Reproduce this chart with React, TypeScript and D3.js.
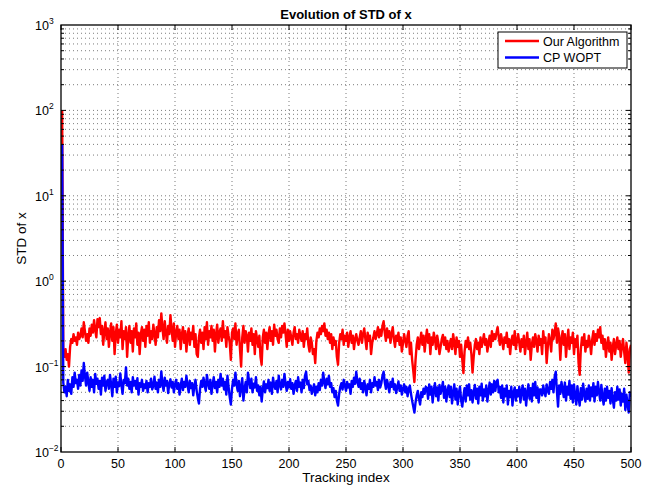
import React from "react";
import * as d3 from "d3";

// STD of x per tracking index (index 1..500)
const ourAlgorithm = [
  100, 0.15, 0.13, 0.16, 0.12, 0.14, 0.10, 0.17, 0.21, 0.19, 0.24, 0.20, 0.22, 0.18, 0.25, 0.21, 0.23, 0.28, 0.22, 0.33,
  0.26, 0.20, 0.24, 0.19, 0.28, 0.23, 0.31, 0.25, 0.35, 0.27, 0.22, 0.36, 0.29, 0.37, 0.24, 0.30, 0.18, 0.26, 0.33, 0.21,
  0.28, 0.17, 0.25, 0.32, 0.20, 0.29, 0.14, 0.24, 0.31, 0.19, 0.27, 0.22, 0.34, 0.16, 0.26, 0.21, 0.29, 0.13, 0.23, 0.30,
  0.19, 0.26, 0.15, 0.28, 0.22, 0.32, 0.18, 0.25, 0.14, 0.24, 0.29, 0.20, 0.27, 0.17, 0.30, 0.23, 0.33, 0.19, 0.26, 0.21,
  0.31, 0.24, 0.18, 0.29, 0.22, 0.35, 0.26, 0.42, 0.28, 0.21, 0.34, 0.25, 0.19, 0.30, 0.24, 0.40, 0.27, 0.20, 0.32, 0.17,
  0.25, 0.30, 0.21, 0.27, 0.16, 0.24, 0.29, 0.19, 0.26, 0.15, 0.23, 0.28, 0.18, 0.25, 0.21, 0.30, 0.17, 0.24, 0.14, 0.13,
  0.22, 0.27, 0.19, 0.25, 0.16, 0.29, 0.21, 0.33, 0.18, 0.26, 0.22, 0.30, 0.20, 0.27, 0.15, 0.24, 0.31, 0.19, 0.25, 0.28,
  0.20, 0.34, 0.22, 0.26, 0.17, 0.29, 0.23, 0.19, 0.12, 0.25, 0.28, 0.21, 0.32, 0.18, 0.24, 0.27, 0.16, 0.10, 0.22, 0.30,
  0.19, 0.26, 0.23, 0.15, 0.25, 0.20, 0.28, 0.18, 0.24, 0.14, 0.26, 0.21, 0.17, 0.23, 0.13, 0.105, 0.22, 0.27, 0.19, 0.25,
  0.16, 0.24, 0.29, 0.20, 0.26, 0.18, 0.31, 0.23, 0.27, 0.21, 0.19, 0.28, 0.22, 0.30, 0.25, 0.32, 0.24, 0.17, 0.27, 0.20,
  0.26, 0.22, 0.18, 0.25, 0.29, 0.21, 0.24, 0.19, 0.27, 0.23, 0.20, 0.26, 0.17, 0.24, 0.21, 0.28, 0.18, 0.15, 0.22, 0.19,
  0.14, 0.16, 0.11, 0.20, 0.25, 0.22, 0.28, 0.24, 0.30, 0.26, 0.32, 0.23, 0.27, 0.21, 0.25, 0.19, 0.24, 0.16, 0.22, 0.18,
  0.20, 0.13, 0.105, 0.19, 0.24, 0.21, 0.27, 0.18, 0.23, 0.20, 0.25, 0.17, 0.22, 0.26, 0.19, 0.23, 0.16, 0.21, 0.24, 0.20,
  0.18, 0.22, 0.26, 0.19, 0.24, 0.28, 0.21, 0.16, 0.25, 0.20, 0.23, 0.14, 0.19, 0.22, 0.26, 0.21, 0.24, 0.29, 0.22, 0.27,
  0.23, 0.30, 0.34, 0.25, 0.20, 0.28, 0.22, 0.26, 0.19, 0.24, 0.29, 0.21, 0.17, 0.23, 0.20, 0.25, 0.18, 0.22, 0.15, 0.19,
  0.24, 0.20, 0.17, 0.23, 0.26, 0.14, 0.19, 0.12, 0.09, 0.066, 0.12, 0.18, 0.22, 0.16, 0.20, 0.25, 0.18, 0.23, 0.15, 0.21,
  0.27, 0.19, 0.24, 0.14, 0.22, 0.18, 0.25, 0.21, 0.16, 0.23, 0.19, 0.14, 0.17, 0.21, 0.235, 0.18, 0.22, 0.16, 0.20, 0.15,
  0.18, 0.21, 0.16, 0.24, 0.19, 0.14, 0.22, 0.17, 0.20, 0.13, 0.18, 0.12, 0.084, 0.15, 0.20, 0.17, 0.22, 0.16, 0.19, 0.14,
  0.085, 0.13, 0.18, 0.21, 0.16, 0.19, 0.14, 0.22, 0.17, 0.20, 0.24, 0.18, 0.21, 0.15, 0.19, 0.23, 0.17, 0.26, 0.20, 0.24,
  0.21, 0.25, 0.29, 0.22, 0.18, 0.24, 0.20, 0.16, 0.22, 0.19, 0.25, 0.17, 0.21, 0.14, 0.20, 0.23, 0.18, 0.26, 0.16, 0.20,
  0.24, 0.19, 0.15, 0.21, 0.17, 0.23, 0.14, 0.19, 0.25, 0.16, 0.21, 0.12, 0.18, 0.22, 0.17, 0.24, 0.20, 0.15, 0.23, 0.18,
  0.21, 0.14, 0.26, 0.19, 0.22, 0.11, 0.17, 0.24, 0.20, 0.15, 0.27, 0.21, 0.25, 0.32, 0.19, 0.28, 0.23, 0.12, 0.21, 0.26,
  0.18, 0.24, 0.13, 0.20, 0.27, 0.16, 0.22, 0.19, 0.25, 0.14, 0.21, 0.17, 0.23, 0.11, 0.08, 0.16, 0.22, 0.18, 0.24, 0.15,
  0.20, 0.17, 0.23, 0.19, 0.14, 0.21, 0.26, 0.18, 0.24, 0.20, 0.27, 0.22, 0.29, 0.19, 0.23, 0.16, 0.21, 0.13, 0.18, 0.22,
  0.15, 0.19, 0.12, 0.17, 0.21, 0.14, 0.18, 0.22, 0.16, 0.20, 0.13, 0.17, 0.21, 0.15, 0.11, 0.19, 0.14, 0.085, 0.16, 0.18,
];

const cpWopt = [
  40, 0.065, 0.05, 0.058, 0.045, 0.07, 0.052, 0.062, 0.048, 0.075, 0.058, 0.085, 0.064, 0.07, 0.055, 0.08, 0.06, 0.09, 0.068, 0.11,
  0.078, 0.06, 0.085, 0.066, 0.052, 0.075, 0.058, 0.07, 0.05, 0.082, 0.063, 0.072, 0.055, 0.068, 0.047, 0.074, 0.06, 0.078, 0.052, 0.066,
  0.07, 0.055, 0.08, 0.062, 0.045, 0.072, 0.058, 0.076, 0.05, 0.065, 0.059, 0.083, 0.061, 0.048, 0.07, 0.064, 0.098, 0.06, 0.072, 0.055,
  0.066, 0.05, 0.075, 0.06, 0.068, 0.055, 0.073, 0.047, 0.064, 0.058, 0.07, 0.052, 0.062, 0.056, 0.068, 0.05, 0.064, 0.058, 0.072, 0.054,
  0.06, 0.076, 0.055, 0.065, 0.05, 0.07, 0.058, 0.088, 0.062, 0.052, 0.074, 0.06, 0.068, 0.049, 0.063, 0.071, 0.057, 0.066, 0.05, 0.062,
  0.07, 0.055, 0.064, 0.047, 0.06, 0.072, 0.053, 0.066, 0.058, 0.078, 0.061, 0.05, 0.068, 0.056, 0.064, 0.046, 0.06, 0.07, 0.052, 0.043,
  0.037, 0.055, 0.068, 0.058, 0.074, 0.06, 0.052, 0.08, 0.063, 0.055, 0.07, 0.048, 0.062, 0.075, 0.056, 0.066, 0.05, 0.07, 0.058, 0.082,
  0.06, 0.072, 0.054, 0.066, 0.047, 0.078, 0.058, 0.044, 0.036, 0.055, 0.07, 0.06, 0.085, 0.062, 0.052, 0.068, 0.045, 0.058, 0.073, 0.04,
  0.055, 0.066, 0.05, 0.085, 0.068, 0.056, 0.072, 0.05, 0.063, 0.057, 0.075, 0.052, 0.06, 0.046, 0.058, 0.039, 0.054, 0.067, 0.05, 0.062,
  0.056, 0.07, 0.052, 0.065, 0.048, 0.074, 0.06, 0.055, 0.068, 0.05, 0.078, 0.061, 0.054, 0.07, 0.058, 0.082, 0.063, 0.052, 0.066, 0.057,
  0.071, 0.055, 0.064, 0.048, 0.06, 0.068, 0.052, 0.075, 0.058, 0.065, 0.05, 0.07, 0.056, 0.078, 0.087, 0.062, 0.068, 0.053, 0.06, 0.048,
  0.055, 0.062, 0.046, 0.058, 0.05, 0.064, 0.053, 0.07, 0.06, 0.085, 0.066, 0.056, 0.072, 0.062, 0.078, 0.058, 0.064, 0.05, 0.056, 0.044,
  0.052, 0.04, 0.035, 0.048, 0.058, 0.064, 0.054, 0.07, 0.06, 0.052, 0.066, 0.057, 0.062, 0.048, 0.068, 0.058, 0.074, 0.063, 0.087, 0.066,
  0.058, 0.072, 0.055, 0.064, 0.05, 0.068, 0.058, 0.046, 0.062, 0.055, 0.07, 0.05, 0.064, 0.058, 0.075, 0.06, 0.066, 0.053, 0.07, 0.057,
  0.064, 0.078, 0.087, 0.066, 0.055, 0.07, 0.06, 0.05, 0.066, 0.058, 0.072, 0.054, 0.062, 0.049, 0.058, 0.067, 0.052, 0.06, 0.047, 0.055,
  0.062, 0.05, 0.058, 0.045, 0.055, 0.06, 0.048, 0.04, 0.034, 0.029, 0.038, 0.046, 0.052, 0.042, 0.036, 0.05, 0.044, 0.055, 0.048, 0.058,
  0.056, 0.042, 0.062, 0.047, 0.058, 0.038, 0.053, 0.064, 0.045, 0.057, 0.04, 0.061, 0.048, 0.055, 0.066, 0.043, 0.058, 0.039, 0.052, 0.06,
  0.044, 0.058, 0.037, 0.05, 0.062, 0.041, 0.055, 0.036, 0.049, 0.058, 0.04, 0.034, 0.045, 0.056, 0.039, 0.06, 0.046, 0.062, 0.041, 0.053,
  0.038, 0.05, 0.061, 0.042, 0.055, 0.037, 0.058, 0.046, 0.063, 0.04, 0.054, 0.045, 0.06, 0.039, 0.052, 0.065, 0.047, 0.062, 0.05, 0.068,
  0.052, 0.066, 0.07, 0.05, 0.058, 0.043, 0.06, 0.038, 0.055, 0.045, 0.06, 0.036, 0.052, 0.044, 0.058, 0.035, 0.05, 0.057, 0.04, 0.053,
  0.045, 0.058, 0.038, 0.052, 0.06, 0.041, 0.055, 0.035, 0.05, 0.062, 0.042, 0.056, 0.039, 0.063, 0.046, 0.066, 0.043, 0.057, 0.038, 0.054,
  0.054, 0.046, 0.06, 0.05, 0.045, 0.062, 0.052, 0.048, 0.066, 0.055, 0.07, 0.05, 0.075, 0.087, 0.052, 0.034, 0.06, 0.048, 0.066, 0.055,
  0.044, 0.065, 0.04, 0.058, 0.047, 0.068, 0.042, 0.06, 0.038, 0.062, 0.046, 0.036, 0.059, 0.043, 0.035, 0.056, 0.041, 0.063, 0.048, 0.039,
  0.055, 0.042, 0.06, 0.04, 0.057, 0.045, 0.064, 0.039, 0.058, 0.046, 0.066, 0.05, 0.04, 0.061, 0.044, 0.036, 0.055, 0.04, 0.058, 0.043,
  0.052, 0.037, 0.056, 0.042, 0.033, 0.05, 0.04, 0.058, 0.041, 0.054, 0.035, 0.048, 0.039, 0.055, 0.031, 0.047, 0.036, 0.029, 0.05, 0.044,
];

const xTicks = [0, 50, 100, 150, 200, 250, 300, 350, 400, 450, 500];
const yDecades = [-2, -1, 0, 1, 2, 3];

const series = [
  { name: "Our Algorithm", values: ourAlgorithm, color: "#ff0000" },
  { name: "CP WOPT", values: cpWopt, color: "#0000ff" },
];

const W = 659;
const H = 490;
const left = 61, right = 631, top = 25, bottom = 452;
const font = "'Liberation Sans', Arial, Helvetica, sans-serif";

export default function App() {
  const x = d3.scaleLinear().domain([0, 500]).range([left, right]);
  const y = d3.scaleLog().domain([1e-2, 1e3]).range([bottom, top]);

  const logTicks = y.ticks().filter((t) => t > 1e-2 && t < 1e3);
  const line = d3
    .line<number>()
    .x((_, i) => x(i + 1))
    .y((d) => y(d));

  return (
    <svg
      width={W}
      height={H}
      style={{ position: "absolute", left: 0, top: 0, background: "#fff" }}
      fontFamily={font}
    >
      <defs>
        <clipPath id="plot">
          <rect x={left} y={top} width={right - left} height={bottom - top} />
        </clipPath>
      </defs>

      {/* grid */}
      <g stroke="#444" strokeWidth={0.7} strokeDasharray="1 3">
        {xTicks.slice(1, -1).map((t) => (
          <line key={"gx" + t} x1={x(t)} x2={x(t)} y1={top} y2={bottom} />
        ))}
        {logTicks.map((t, i) => (
          <line key={"gy" + i} x1={left} x2={right} y1={y(t)} y2={y(t)} />
        ))}
      </g>

      {/* data */}
      <g clipPath="url(#plot)" fill="none" strokeWidth={2.4} strokeLinejoin="round">
        {series.map((s) => (
          <path key={s.name} d={line(s.values) || ""} stroke={s.color} />
        ))}
      </g>

      {/* ticks */}
      <g stroke="#000" strokeWidth={1}>
        {xTicks.map((t) => (
          <g key={"tx" + t}>
            <line x1={x(t)} x2={x(t)} y1={bottom} y2={bottom - 5} />
            <line x1={x(t)} x2={x(t)} y1={top} y2={top + 5} />
          </g>
        ))}
        {logTicks.map((t, i) => {
          const major = Math.abs(Math.log10(t) - Math.round(Math.log10(t))) < 1e-9;
          const len = major ? 5 : 3;
          return (
            <g key={"ty" + i}>
              <line x1={left} x2={left + len} y1={y(t)} y2={y(t)} />
              <line x1={right} x2={right - len} y1={y(t)} y2={y(t)} />
            </g>
          );
        })}
      </g>

      <rect
        x={left}
        y={top}
        width={right - left}
        height={bottom - top}
        fill="none"
        stroke="#000"
        strokeWidth={1.3}
      />

      {/* x tick labels */}
      <g fontSize={12.5} textAnchor="middle" fill="#000">
        {xTicks.map((t) => (
          <text key={"lx" + t} x={x(t)} y={468}>
            {t}
          </text>
        ))}
      </g>

      {/* y tick labels */}
      <g fontSize={12.5} fill="#000">
        {yDecades.map((e) => {
          const yy = y(Math.pow(10, e));
          const expStr = e < 0 ? "\u2212" + Math.abs(e) : String(e);
          return (
            <text key={"ly" + e} x={35} y={yy + 5}>
              10
              <tspan fontSize={8.5} dy={-6}>
                {expStr}
              </tspan>
            </text>
          );
        })}
      </g>

      <text x={346} y={19} textAnchor="middle" fontSize={13} fontWeight="bold">
        Evolution of STD of x
      </text>
      <text x={346} y={482} textAnchor="middle" fontSize={13.5}>
        Tracking index
      </text>
      <text
        transform={`translate(26,${(top + bottom) / 2}) rotate(-90)`}
        textAnchor="middle"
        fontSize={13.5}
      >
        STD of x
      </text>

      {/* legend */}
      <g>
        <rect x={498} y={32} width={129} height={36} fill="#fff" stroke="#000" strokeWidth={1} />
        {series.map((s, i) => (
          <g key={"lg" + s.name}>
            <line
              x1={505}
              x2={539}
              y1={41 + i * 16.5}
              y2={41 + i * 16.5}
              stroke={s.color}
              strokeWidth={2.4}
            />
            <text x={543} y={45.5 + i * 16.5} fontSize={12.5}>
              {s.name}
            </text>
          </g>
        ))}
      </g>
    </svg>
  );
}
